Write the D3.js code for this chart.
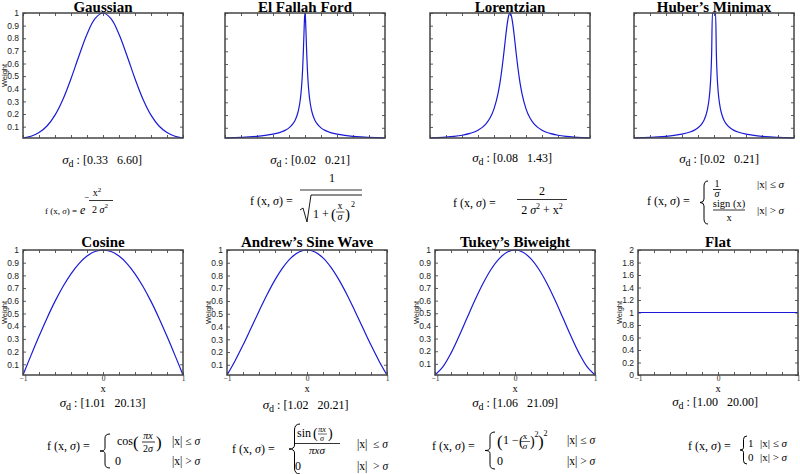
<!DOCTYPE html>
<html><head><meta charset="utf-8">
<script src="https://cdn.jsdelivr.net/npm/d3@7"></script>
<style>body{margin:0;background:#fff}svg{display:block}text{white-space:pre}</style>
</head><body>
<svg id="c" width="800" height="474"></svg>
<script>
// ---------- data ----------
const titles = ["Gaussian", "El Fallah Ford", "Lorentzian", "Huber\u2019s Minimax",
                "Cosine", "Andrew\u2019s Sine Wave", "Tukey\u2019s Biweight", "Flat"];
const sigmaRanges = ["[0.33   6.60]", "[0.02   0.21]", "[0.08   1.43]", "[0.02   0.21]",
                     "[1.01   20.13]", "[1.02   20.21]", "[1.06   21.09]", "[1.00   20.00]"];
const xSmooth = [-1,-0.9,-0.8,-0.7,-0.6,-0.5,-0.4,-0.3,-0.2,-0.1,0,0.1,0.2,0.3,0.4,0.5,0.6,0.7,0.8,0.9,1];
const xPeak = [-1,-0.9,-0.8,-0.7,-0.6,-0.5,-0.4,-0.3,-0.25,-0.2,-0.15,-0.125,-0.1,-0.08,-0.06,-0.05,-0.04,-0.03,-0.02,-0.01,-0.005,0,
               0.005,0.01,0.02,0.03,0.04,0.05,0.06,0.08,0.1,0.125,0.15,0.2,0.25,0.3,0.4,0.5,0.6,0.7,0.8,0.9,1];
const xFlat = [-1, 1];
const gaussianY = [0.0101,0.0243,0.0530,0.1054,0.1915,0.3173,0.4797,0.6615,0.8322,0.9551,1,0.9551,0.8322,0.6615,0.4797,0.3173,0.1915,0.1054,0.0530,0.0243,0.0101];
const elFallahY = [0.0200,0.0222,0.0250,0.0286,0.0333,0.0400,0.0499,0.0665,0.0797,0.0995,0.1322,0.1580,0.1961,0.2425,0.3162,0.3714,0.4472,0.5547,0.7071,0.8944,0.9701,1,
                   0.9701,0.8944,0.7071,0.5547,0.4472,0.3714,0.3162,0.2425,0.1961,0.1580,0.1322,0.0995,0.0797,0.0665,0.0499,0.0400,0.0333,0.0286,0.0250,0.0222,0.0200];
const lorentzY = [0.0126,0.0156,0.0196,0.0255,0.0343,0.0487,0.0741,0.1245,0.1700,0.2424,0.3626,0.4503,0.5614,0.6667,0.7805,0.8366,0.8889,0.9343,0.9697,0.9922,0.9980,1,
                  0.9980,0.9922,0.9697,0.9343,0.8889,0.8366,0.7805,0.6667,0.5614,0.4503,0.3626,0.2424,0.1700,0.1245,0.0741,0.0487,0.0343,0.0255,0.0196,0.0156,0.0126];
const huberY = [0.0200,0.0222,0.0250,0.0286,0.0333,0.0400,0.0500,0.0667,0.0800,0.1000,0.1333,0.1600,0.2000,0.2500,0.3333,0.4000,0.5000,0.6667,1,1,1,1,
                1,1,1,0.6667,0.5000,0.4000,0.3333,0.2500,0.2000,0.1600,0.1333,0.1000,0.0800,0.0667,0.0500,0.0400,0.0333,0.0286,0.0250,0.0222,0.0200];
const cosineY = [0.0156,0.1702,0.3206,0.4634,0.5953,0.7126,0.8127,0.8931,0.9520,0.9879,1,0.9879,0.9520,0.8931,0.8127,0.7126,0.5953,0.4634,0.3206,0.1702,0.0156];
const andrewY = [0.0200,0.1303,0.2545,0.3867,0.5204,0.6490,0.7654,0.8637,0.9380,0.9843,1,0.9843,0.9380,0.8637,0.7654,0.6490,0.5204,0.3867,0.2545,0.1303,0.0200];
const tukeyY  = [0.0121,0.0779,0.1852,0.3180,0.4619,0.6045,0.7355,0.8462,0.9301,0.9823,1,0.9823,0.9301,0.8462,0.7355,0.6045,0.4619,0.3180,0.1852,0.0779,0.0121];
const flatY = [1, 1];
const xTicks = [-1,-0.8,-0.6,-0.4,-0.2,0,0.2,0.4,0.6,0.8,1];
const xTickLabels = [-1, 0, 1];
const weightTicks = [0.1,0.2,0.3,0.4,0.5,0.6,0.7,0.8,0.9,1];
const flatTicks = [0,0.2,0.4,0.6,0.8,1,1.2,1.4,1.6,1.8,2];

const series = [
  {x: xSmooth, y: gaussianY}, {x: xPeak, y: elFallahY}, {x: xPeak, y: lorentzY}, {x: xPeak, y: huberY},
  {x: xSmooth, y: cosineY}, {x: xSmooth, y: andrewY}, {x: xSmooth, y: tukeyY}, {x: xFlat, y: flatY}
];

// ---------- layout ----------
const W = 160, H = 125;
const frames = [
  {l: 23, t: 13}, {l: 225, t: 13}, {l: 430, t: 13}, {l: 634, t: 13},
  {l: 23, t: 250}, {l: 227, t: 250}, {l: 435, t: 250}, {l: 638, t: 250}
];
const SERIF = "'Liberation Serif','Times New Roman',serif";
const SANS = "'Liberation Sans',Arial,sans-serif";
const svg = d3.select("#c");
const fmt = d3.format("~g");

series.forEach((s, i) => {
  const f = frames[i];
  const bottomRow = i >= 4;
  const g = svg.append("g").attr("transform", `translate(${f.l},${f.t})`);
  const x = d3.scaleLinear().domain([-1, 1]).range([0, W]);
  const isFlat = i === 7;
  const y = d3.scaleLinear().domain(isFlat ? [0, 2] : [d3.min(s.y), 1]).range([H, 0]);
  const yt = isFlat ? flatTicks : weightTicks;
  const showY = bottomRow || i === 0;

  const axes = [
    g.append("g").attr("transform", `translate(0,${H})`).call(d3.axisBottom(x).tickValues(xTicks).tickSizeInner(-3).tickSizeOuter(0).tickPadding(0.5)
        .tickFormat(d => bottomRow && xTickLabels.includes(d) ? fmt(d) : "")),
    g.append("g").call(d3.axisTop(x).tickValues(xTicks).tickSizeInner(-3).tickSizeOuter(0).tickFormat("")),
    g.append("g").call(d3.axisLeft(y).tickValues(yt).tickSizeInner(-3).tickSizeOuter(0).tickPadding(4)
        .tickFormat(d => showY ? fmt(d) : "")),
    g.append("g").attr("transform", `translate(${W},0)`).call(d3.axisRight(y).tickValues(yt).tickSizeInner(-3).tickSizeOuter(0).tickFormat(""))
  ];
  axes.forEach(a => {
    a.select(".domain").remove();
    a.selectAll(".tick line").attr("stroke", "#333").attr("stroke-width", 0.8);
  });
  axes[0].selectAll(".tick text").attr("font-family", SERIF).attr("font-size", 7.5).attr("fill", "#222");
  axes[2].selectAll(".tick text").attr("font-family", SANS).attr("font-size", 8.5).attr("fill", "#222");

  const line = d3.line().x((d, k) => x(s.x[k])).y(d => y(d))
    .curve(i === 0 || (i >= 4 && i <= 6) ? d3.curveCatmullRom : d3.curveMonotoneX);
  g.append("path").attr("d", line(s.y)).attr("fill", "none").attr("stroke", "#1a1ad6").attr("stroke-width", 1.2);

  g.append("rect").attr("width", W).attr("height", H).attr("fill", "none").attr("stroke", "#444").attr("stroke-width", 1.5);

  g.append("text").attr("x", W / 2).attr("y", bottomRow ? -3 : -1.5).attr("text-anchor", "middle")
    .attr("font-family", SERIF).attr("font-weight", "bold").attr("font-size", 15).text(titles[i]);

  if (showY) {
    g.append("text").attr("transform", `translate(-16,${H / 2}) rotate(-90)`).attr("text-anchor", "middle")
      .attr("font-family", SANS).attr("font-size", 7.5).attr("fill", "#222").text("Weight");
  }
  if (bottomRow) {
    g.append("text").attr("x", W / 2).attr("y", H + 17).attr("text-anchor", "middle")
      .attr("font-family", SERIF).attr("font-size", 10.5).text("x");
  }
});

// ---------- sigma ranges ----------
const sigmaPos = [[102,164],[310,164],[512,162],[719,163],[102.5,407],[305.5,409],[515,407],[715,406]];
sigmaRanges.forEach((r, i) => {
  const t = svg.append("text").attr("x", sigmaPos[i][0]).attr("y", sigmaPos[i][1]).attr("text-anchor", "middle")
    .attr("font-family", SERIF).attr("font-size", 12);
  t.append("tspan").attr("font-style", "italic").attr("font-size", 13).text("\u03c3");
  t.append("tspan").attr("dy", 3).attr("font-size", 10).text("d");
  t.append("tspan").attr("dy", -3).text(" : " + r);
});

// ---------- formula helpers ----------
function T(x, y, parts, o = {}) {
  const t = svg.append("text").attr("x", x).attr("y", y).attr("font-family", SERIF)
    .attr("font-size", o.fs || 12).attr("text-anchor", o.anchor || "start");
  (Array.isArray(parts) ? parts : [[parts]]).forEach(p => {
    const ts = t.append("tspan").text(p[0]);
    if (p[1]) ts.attr("font-style", "italic");
    if (p[2]) ts.attr("dy", p[2]);
    if (p[3]) ts.attr("font-size", p[3]);
  });
  return t;
}
function L(x1, y1, x2, y2, w = 0.8) {
  svg.append("line").attr("x1", x1).attr("y1", y1).attr("x2", x2).attr("y2", y2).attr("stroke", "#000").attr("stroke-width", w);
}
function fxs(x, y, fs = 12) {
  T(x, y, [["f (x, "], ["\u03c3", 1], [") ="]], {fs});
}
function brace(x, y1, y2, w) {
  const h = y2 - y1, m = (y1 + y2) / 2, xm = x + w * 0.5;
  const d = `M${x + w},${y1} Q${xm},${y1} ${xm},${y1 + h * 0.12} L${xm},${m - h * 0.08} Q${xm},${m} ${x},${m}` +
            ` Q${xm},${m} ${xm},${m + h * 0.08} L${xm},${y2 - h * 0.12} Q${xm},${y2} ${x + w},${y2}`;
  svg.append("path").attr("d", d).attr("fill", "none").attr("stroke", "#000").attr("stroke-width", 1);
}
const le = [["|x| \u2264 "], ["\u03c3", 1]];
const gt = [["|x| > "], ["\u03c3", 1]];

// Gaussian
fxs(45, 214, 9);
T(80, 214, [["e", 1]], {fs: 12});
T(84, 200, "\u2212", {fs: 9});
T(97, 196, [["x"], ["2", 0, -4, 7]], {fs: 10, anchor: "middle"});
L(89, 200.5, 113, 200.5);
T(100, 213, [["2 "], ["\u03c3", 1], ["2", 0, -5, 7]], {fs: 10, anchor: "middle"});

// El Fallah Ford
fxs(250, 205);
T(332, 182, "1", {anchor: "middle"});
L(300, 190, 362, 190);
svg.append("path").attr("d", "M300,210 L303,208 L307,222 L311,195 L362,195").attr("fill", "none").attr("stroke", "#000").attr("stroke-width", 0.9);
T(313, 218, "1 +");
T(331, 219, "(", {fs: 15});
T(340, 209, "x", {fs: 10, anchor: "middle"});
L(336, 212, 344.5, 212, 0.7);
T(340, 220, [["\u03c3", 1]], {fs: 10, anchor: "middle"});
T(345, 219, ")", {fs: 15});
T(351, 207, "2", {fs: 8});

// Lorentzian
fxs(453, 207);
T(542, 195, "2", {anchor: "middle"});
L(517, 199.5, 567, 199.5);
T(542, 214, [["2 "], ["\u03c3", 1], ["2", 0, -5, 8], [" + x", 0, 5, 12], ["2", 0, -5, 8]], {anchor: "middle"});

// Huber
fxs(647, 205);
brace(700, 181, 224, 8);
T(717, 186.5, "1", {fs: 10, anchor: "middle"});
L(713, 189.5, 721, 189.5);
T(717, 197, [["\u03c3", 1]], {fs: 10, anchor: "middle"});
T(757, 188, le, {fs: 11});
T(729, 207, "sign (x)", {fs: 10.5, anchor: "middle"});
L(713, 210, 745, 210);
T(729, 221, "x", {fs: 10.5, anchor: "middle"});
T(757, 214, gt, {fs: 11});

// Cosine
fxs(47, 450);
brace(100, 434, 468, 10);
T(117, 445, "cos");
T(133, 448, "(", {fs: 17});
T(148, 439, [["\u03c0x", 1]], {fs: 10, anchor: "middle"});
L(142, 442, 155, 442);
T(148, 452, [["2"], ["\u03c3", 1]], {fs: 10, anchor: "middle"});
T(156, 448, ")", {fs: 17});
T(172, 445, le, {fs: 11.5});
T(115, 465, "0");
T(172, 465, gt, {fs: 11.5});

// Andrew
fxs(232, 453);
brace(289, 424, 474, 11);
T(297, 437, "sin");
T(313, 438, "(", {fs: 14});
T(322, 432, [["\u03c0x", 1]], {fs: 8, anchor: "middle"});
L(318, 434, 327, 434, 0.6);
T(322, 441, [["\u03c3", 1]], {fs: 8, anchor: "middle"});
T(328, 438, ")", {fs: 14});
L(295, 443.5, 340, 443.5);
T(317, 454, [["\u03c0x\u03c3", 1]], {fs: 11, anchor: "middle"});
T(357, 448, [["|x|  \u2264 "], ["\u03c3", 1]], {fs: 11.5});
T(295, 470, "0");
T(357, 470, [["|x|  > "], ["\u03c3", 1]], {fs: 11.5});

// Tukey
fxs(432, 450);
brace(485, 432, 469, 10);
T(497, 447, "(", {fs: 17});
T(503, 444, "1 \u2212");
T(519, 446, "(", {fs: 14});
T(525, 439, "x", {fs: 9, anchor: "middle"});
L(521, 441.5, 530, 441.5, 0.6);
T(525, 449, [["\u03c3", 1]], {fs: 9, anchor: "middle"});
T(530, 446, ")", {fs: 14});
T(534.5, 437, "2", {fs: 8});
T(538, 447, ")", {fs: 17});
T(543.5, 436, "2", {fs: 8});
T(567, 444, le, {fs: 11.5});
T(497, 465, "0");
T(567, 465, gt, {fs: 11.5});

// Flat
fxs(688, 450);
brace(740, 436, 464, 7);
T(748, 447, "1", {fs: 11});
T(760, 447, le, {fs: 11});
T(748, 461, "0", {fs: 11});
T(760, 461, gt, {fs: 11});
</script>
</body></html>
